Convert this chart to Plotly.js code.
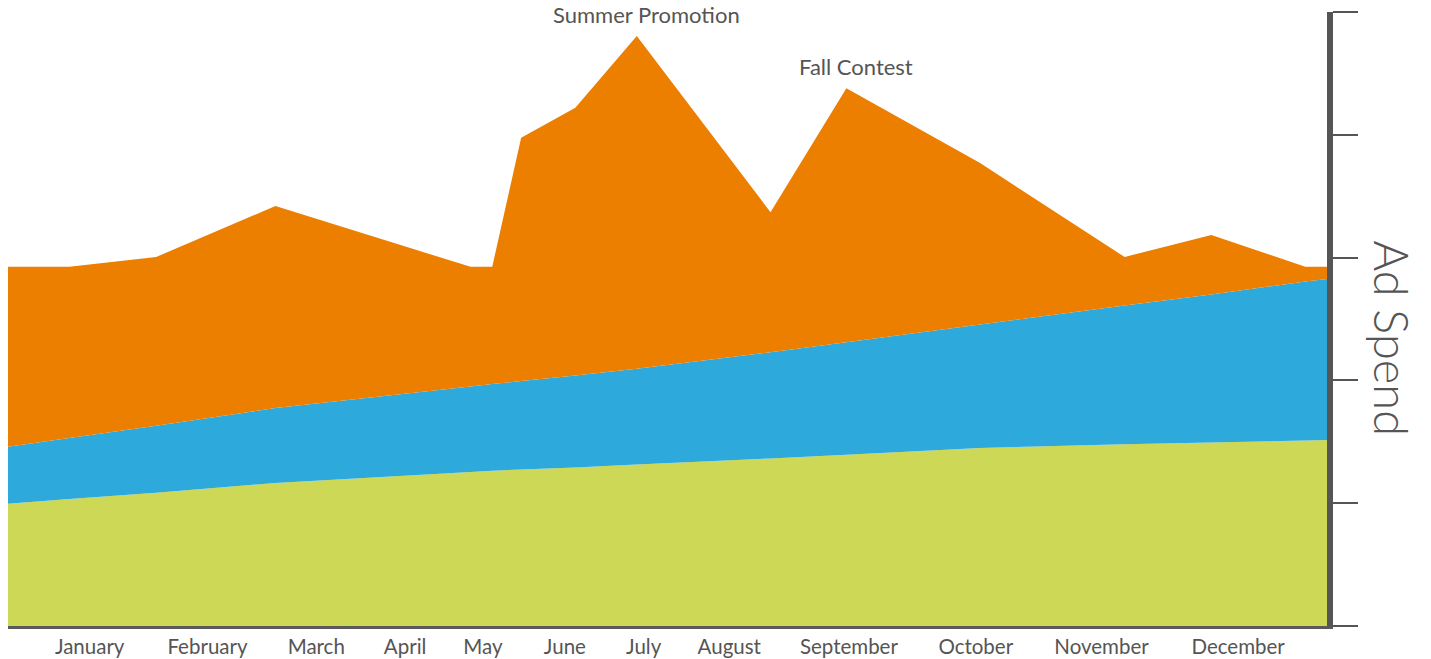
<!DOCTYPE html>
<html>
<head>
<meta charset="utf-8">
<script src="https://cdn.plot.ly/plotly-3.0.1.min.js"></script>
<style>html,body{margin:0;padding:0;background:#fff;}#chart{width:1431px;height:659px;}</style>
</head>
<body>
<div id="chart"></div>
<script>
// Day of year for each data point
const days = [0, 17, 41, 74, 128, 134, 142, 157, 174, 211, 232, 269, 309, 333, 359, 365];
// Stacked layers (bottom to top)
const baseSpend   = [19.9, 20.7, 21.7, 23.3, 25.1, 25.3, 25.5, 25.8, 26.3, 27.3, 27.9, 29.0, 29.6, 29.9, 30.2, 30.3];
const growthSpend = [9.3, 9.9, 10.9, 12.2, 13.9, 14.1, 14.4, 15.0, 15.6, 17.3, 18.3, 20.1, 22.6, 24.1, 25.9, 26.2];
const campaignSpend = [29.3, 27.9, 27.5, 32.9, 19.5, 19.1, 39.6, 43.6, 54.2, 22.8, 41.4, 26.3, 7.9, 9.7, 2.4, 2.0];
// Month labels and their positions (day of year)
const monthLabels = ["January","February","March","April","May","June","July","August","September","October","November","December"];
const monthPos = [22.6, 55.2, 85.3, 109.9, 131.4, 154.1, 175.9, 199.6, 232.7, 267.8, 302.6, 340.4];
// Annotated events
const eventNames = ["Summer Promotion", "Fall Contest"];
const eventDays = [174, 232];
const eventIdx = [8, 10];

const textColor = "#555555";
const fontFam = "Lato, 'Open Sans', sans-serif";

function layer(y, color) {
  return {x: days, y: y, type: "scatter", mode: "none", stackgroup: "one",
          fill: "tonexty", fillcolor: color, line: {width: 0}, hoverinfo: "skip"};
}
const traces = [
  layer(baseSpend, "#CDD857"),
  layer(growthSpend, "#2EA9DC"),
  layer(campaignSpend, "#EC7E00")
];

const annotations = eventNames.map((t, i) => {
  const k = eventIdx[i];
  return {x: eventDays[i], y: baseSpend[k] + growthSpend[k] + campaignSpend[k],
          xref: "x", yref: "y", text: t, showarrow: false,
          xanchor: "center", yanchor: "bottom", xshift: 10, yshift: 6,
          font: {family: fontFam, size: 22, color: textColor}};
});
annotations.push({x: 1.049, y: 0.469, xref: "paper", yref: "paper", text: "Ad Spend",
  showarrow: false, textangle: 90, xanchor: "center", yanchor: "middle",
  font: {family: fontFam, size: 47, color: textColor, weight: 300}});

const layout = {
  width: 1431, height: 659,
  margin: {l: 8, r: 104, t: 12, b: 33, pad: 0},
  paper_bgcolor: "#ffffff", plot_bgcolor: "#ffffff",
  showlegend: false,
  xaxis: {range: [0, 365], tickmode: "array", tickvals: monthPos, ticktext: monthLabels,
          showgrid: false, zeroline: false, showline: true, linecolor: "#5a5a5a", linewidth: 3,
          ticks: "", tickfont: {family: fontFam, size: 20.5, color: textColor}},
  yaxis: {range: [0, 100], side: "right", dtick: 20, tick0: 0, showgrid: false, zeroline: false,
          showline: true, linecolor: "#555555", linewidth: 6, ticks: "outside", ticklen: 25,
          tickwidth: 2, tickcolor: "#555555", showticklabels: false},
  annotations: annotations
};
Plotly.newPlot("chart", traces, layout, {displayModeBar: false, staticPlot: true});
</script>
</body>
</html>
